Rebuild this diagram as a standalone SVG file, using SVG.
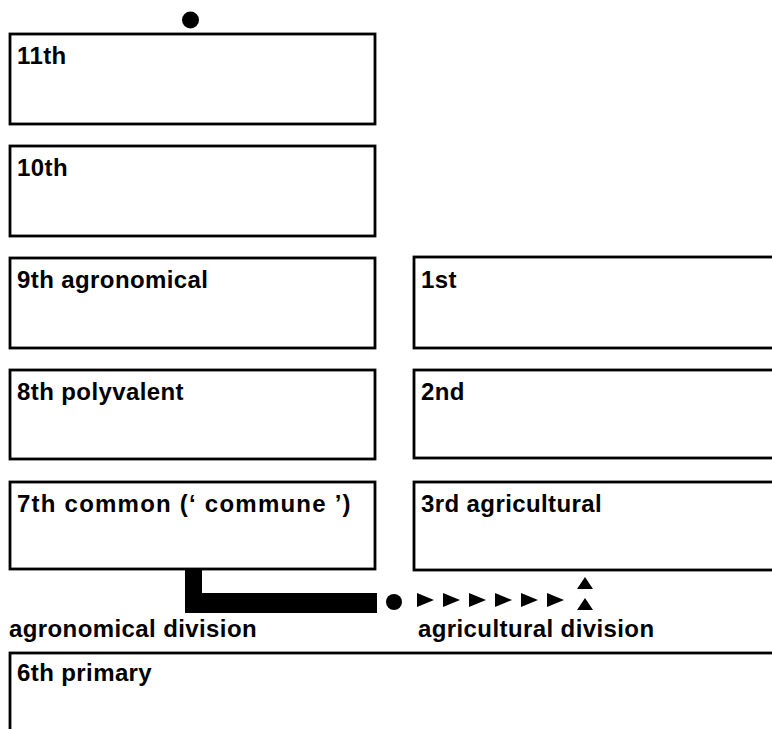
<svg xmlns="http://www.w3.org/2000/svg" width="772" height="729" viewBox="0 0 772 729">
<defs>
<style>
.box{fill:#fff;stroke:#000;stroke-width:2.8}
.lbl{font-family:"Liberation Sans",Arial,Helvetica,sans-serif;font-weight:bold;font-size:24px;letter-spacing:0.4px;fill:#000}
.mark{fill:#000;stroke:none}
</style>
<polygon id="tri-r" class="mark" points="0,0 17,7 0,14"/>
<polygon id="tri-u" class="mark" points="0,12 8,0 16,12"/>
</defs>
<rect width="772" height="729" fill="#fff"/>

<g id="connectors">
<circle class="mark" cx="190.5" cy="20" r="8.5"/>
<path class="mark" d="M185,569 H202 V593 H377 V613 H185 Z"/>
<circle class="mark" cx="394" cy="602" r="8"/>
<use href="#tri-r" x="417" y="593"/>
<use href="#tri-r" x="443" y="593"/>
<use href="#tri-r" x="469" y="593"/>
<use href="#tri-r" x="495" y="593"/>
<use href="#tri-r" x="521" y="593"/>
<use href="#tri-r" x="547" y="593"/>
<use href="#tri-u" x="577" y="577"/>
<use href="#tri-u" x="577" y="598"/>
</g>

<g id="n11">
<rect class="box" x="10" y="34" width="365" height="90"/>
<text class="lbl" x="17" y="64">11th</text>
</g>
<g id="n10">
<rect class="box" x="10" y="146" width="365" height="90"/>
<text class="lbl" x="17" y="176">10th</text>
</g>
<g id="n9">
<rect class="box" x="10" y="258" width="365" height="90"/>
<text class="lbl" x="17" y="288">9th agronomical</text>
</g>
<g id="n8">
<rect class="box" x="10" y="370" width="365" height="89"/>
<text class="lbl" x="17" y="400">8th polyvalent</text>
</g>
<g id="n7">
<rect class="box" x="10" y="482" width="365" height="87"/>
<text class="lbl" x="17" y="512" textLength="334" lengthAdjust="spacing">7th common (‘ commune ’)</text>
</g>
<g id="n1">
<rect class="box" x="414" y="257" width="380" height="91"/>
<text class="lbl" x="421" y="288">1st</text>
</g>
<g id="n2">
<rect class="box" x="414" y="370" width="380" height="88"/>
<text class="lbl" x="421" y="400">2nd</text>
</g>
<g id="n3">
<rect class="box" x="414" y="482" width="380" height="88"/>
<text class="lbl" x="421" y="512">3rd agricultural</text>
</g>
<g id="n6">
<rect class="box" x="10" y="653" width="790" height="100"/>
<text class="lbl" x="17" y="681">6th primary</text>
</g>

<g id="labels">
<text class="lbl" x="9" y="637">agronomical division</text>
<text class="lbl" x="418" y="637">agricultural division</text>
</g>
</svg>
